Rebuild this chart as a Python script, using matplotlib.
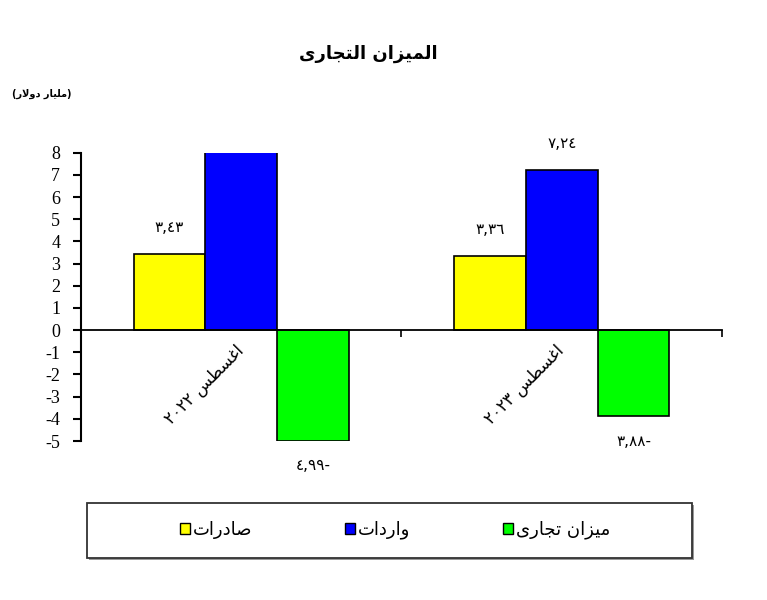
import re
import numpy as np
import matplotlib
matplotlib.use('Agg')
import matplotlib.pyplot as plt
from matplotlib.patches import Patch, Rectangle

categories = ['اغسطس ٢٠٢٢', 'اغسطس ٢٠٢٣']
exports = [3.43, 3.36]
imports = [8.42, 7.24]
balance = [-4.99, -3.88]
series_names = ['صادرات', 'واردات', 'ميزان تجارى']
colors = ['#FFFF00', '#0000FF', '#00FF00']
title = 'الميزان التجارى'
unit = '(مليار دولار)'

# presentation forms: isolated, final, initial, medial
FORMS = {
    'ا': (0xFE8D, 0xFE8E, None, None),
    'ب': (0xFE8F, 0xFE90, 0xFE91, 0xFE92),
    'ت': (0xFE95, 0xFE96, 0xFE97, 0xFE98),
    'ج': (0xFE9D, 0xFE9E, 0xFE9F, 0xFEA0),
    'د': (0xFEA9, 0xFEAA, None, None),
    'ر': (0xFEAD, 0xFEAE, None, None),
    'ز': (0xFEAF, 0xFEB0, None, None),
    'س': (0xFEB1, 0xFEB2, 0xFEB3, 0xFEB4),
    'ص': (0xFEB9, 0xFEBA, 0xFEBB, 0xFEBC),
    'ط': (0xFEC1, 0xFEC2, 0xFEC3, 0xFEC4),
    'غ': (0xFECD, 0xFECE, 0xFECF, 0xFED0),
    'ل': (0xFEDD, 0xFEDE, 0xFEDF, 0xFEE0),
    'م': (0xFEE1, 0xFEE2, 0xFEE3, 0xFEE4),
    'ن': (0xFEE5, 0xFEE6, 0xFEE7, 0xFEE8),
    'و': (0xFEED, 0xFEEE, None, None),
    'ى': (0xFEEF, 0xFEF0, 0xFBE8, 0xFBE9),
    'ي': (0xFEF1, 0xFEF2, 0xFEF3, 0xFEF4),
    '\uFEFB': (0xFEFB, 0xFEFC, None, None),  # lam-alef
}


def shape(text):
    text = text.replace('لا', '\uFEFB')
    out = []
    for i, ch in enumerate(text):
        if ch not in FORMS:
            out.append(ch)
            continue
        prev = text[i - 1] if i > 0 else ''
        nxt = text[i + 1] if i < len(text) - 1 else ''
        jp = prev in FORMS and FORMS[prev][2] is not None
        jn = FORMS[ch][2] is not None and nxt in FORMS
        f = FORMS[ch]
        if jp and jn:
            out.append(chr(f[3]))
        elif jp:
            out.append(chr(f[1]))
        elif jn:
            out.append(chr(f[2]))
        else:
            out.append(chr(f[0]))
    return ''.join(out)


def ar(text):
    vis = shape(text)[::-1]
    vis = re.sub(r'[0-9٠-٩,]+', lambda m: m.group(0)[::-1], vis)
    return vis.translate(str.maketrans('()', ')('))


def ar_num(v):
    s = f'{abs(v):.2f}'.replace('.', ',').translate(str.maketrans('0123456789', '٠١٢٣٤٥٦٧٨٩'))
    return s + '-' if v < 0 else s


plt.rcParams['font.family'] = ['Liberation Serif', 'DejaVu Sans']
plt.rcParams['axes.unicode_minus'] = False

fig = plt.figure(figsize=(7.67, 6.0), dpi=100)
ax = fig.add_axes([0.1056, 0.265, 0.8357, 0.4805])

x = np.arange(len(categories))
w = 0.224
ymin, ymax = -5, 8
for k, (vals, c, name) in enumerate(zip([exports, imports, balance], colors, series_names)):
    bars = ax.bar(x + (k - 1) * w, vals, w, color=c, edgecolor='black', linewidth=1.2, label=ar(name))
    for b, v in zip(bars, vals):
        if v > ymax or v < ymin:
            continue
        off = 19 if v >= 0 else -18
        ax.annotate(ar_num(v), (b.get_x() + b.get_width() / 2, v), xytext=(0, off),
                    textcoords='offset points', ha='center', va='center',
                    fontsize=11, family='DejaVu Sans')

ax.set_xlim(-0.5, len(categories) - 0.5)
ax.set_ylim(ymin, ymax)
ax.set_yticks(range(ymin, ymax + 1))
ax.tick_params(axis='y', labelsize=13, length=6, width=1.5, pad=9)
for lbl in ax.get_yticklabels():
    lbl.set_family('Liberation Serif')
ax.spines['left'].set_linewidth(1.5)
ax.spines['bottom'].set_position(('data', 0))
ax.spines['bottom'].set_linewidth(1.3)
ax.spines['top'].set_visible(False)
ax.spines['right'].set_visible(False)

ax.set_xticks(np.arange(-0.5, len(categories)), labels=[])
ax.tick_params(axis='x', which='major', length=5, width=1.2)
ax.set_xticks(x, labels=[ar(c) for c in categories], minor=True)
ax.tick_params(axis='x', which='minor', length=0, pad=13)
for lbl in ax.get_xticklabels(minor=True):
    lbl.set(rotation=45, ha='right', va='center', rotation_mode='anchor',
            fontsize=12, family='DejaVu Sans')

fig.text(0.48, 0.91, ar(title), ha='center', va='center', fontsize=13,
         fontweight='bold', family='DejaVu Sans')
fig.text(0.016, 0.843, ar(unit), ha='left', va='center', fontsize=7,
         fontweight='bold', family='DejaVu Sans')

# legend box
fig.patches.append(Rectangle((0.1160, 0.0670), 0.7888, 0.0917, transform=fig.transFigure,
                             facecolor='#999999', edgecolor='none', zorder=0))
fig.patches.append(Rectangle((0.1134, 0.0700), 0.7888, 0.0917, transform=fig.transFigure,
                             facecolor='white', edgecolor='#333333', linewidth=1.3, zorder=1))
handles = [Patch(facecolor=c, edgecolor='black', linewidth=1.0) for c in colors]
fig.legend(handles, [ar(n) for n in series_names], ncol=3, loc='center',
           bbox_to_anchor=(0.515, 0.1167), frameon=False,
           handlelength=0.55, handleheight=0.55, handletextpad=0.15,
           columnspacing=5.15, prop={'family': 'DejaVu Sans', 'size': 13})

fig.savefig('out.png', dpi=100)
